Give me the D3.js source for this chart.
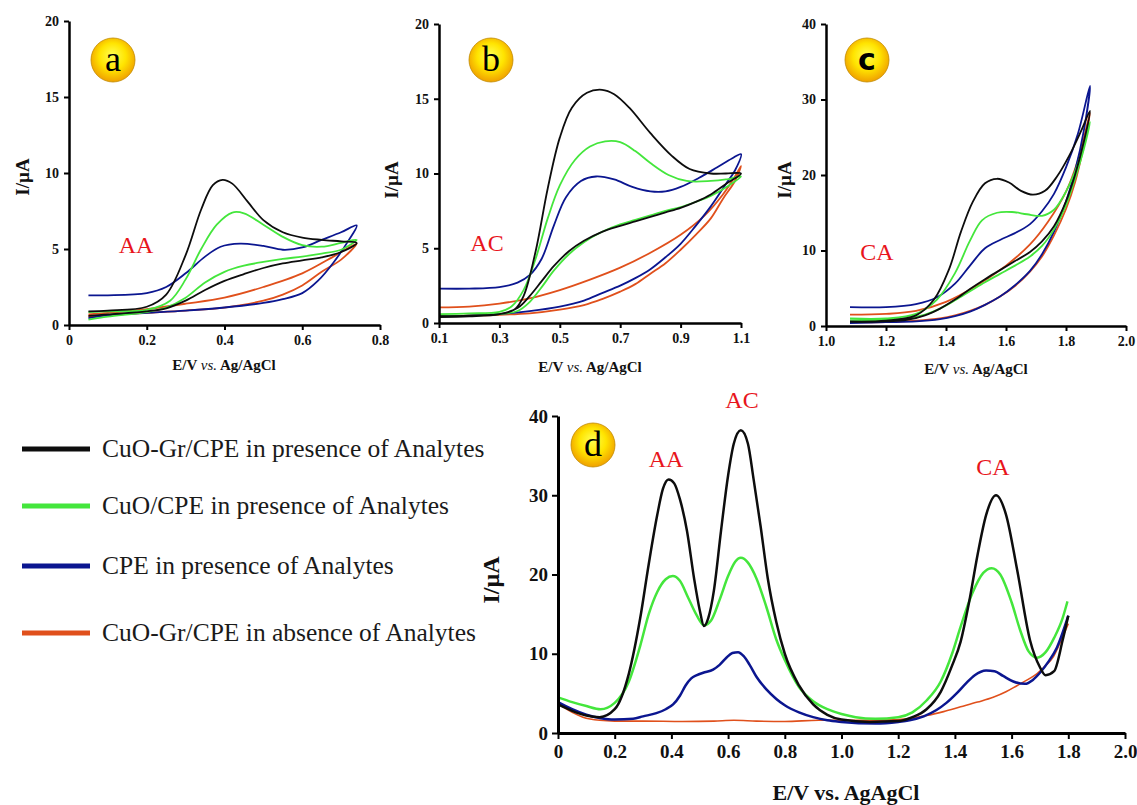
<!DOCTYPE html>
<html>
<head>
<meta charset="utf-8">
<script src="https://cdn.jsdelivr.net/npm/d3@7"></script>
<style>
  body { margin: 0; background: #fff; }
  svg text { font-family: "Liberation Serif", "Times New Roman", serif; }
</style>
</head>
<body>
<svg id="chart" width="1137" height="805"></svg>
<script>
"use strict"

// ---- data: [E (V), I (uA)] ----
// panels a-c are cyclic scans: forward branch then the way back
const seriesNames = [
  "CuO-Gr/CPE in presence of Analytes",
  "CuO/CPE in presence of Analytes",
  "CPE in presence of Analytes",
  "CuO-Gr/CPE in absence of Analytes"
];
const seriesColors = ["#0d0d0d", "#44e63c", "#0b1690", "#e0501c"];

const aBlack = [[0.05,0.9],[0.1,0.95],[0.2,1.2],[0.25,2.0],[0.3,4.6],[0.34,7.6],[0.37,9.2],[0.395,9.55],[0.42,9.3],[0.46,8.1],[0.5,6.9],[0.55,6.1],[0.6,5.75],[0.65,5.6],[0.7,5.5],[0.74,5.4],[0.7,4.8],[0.65,4.45],[0.6,4.25],[0.55,4.05],[0.5,3.75],[0.45,3.35],[0.4,2.9],[0.35,2.3],[0.3,1.6],[0.25,1.1],[0.2,0.9],[0.1,0.7],[0.05,0.6]];
const aGreen = [[0.05,0.85],[0.1,0.9],[0.2,1.0],[0.26,1.6],[0.3,3.0],[0.34,5.0],[0.38,6.6],[0.42,7.4],[0.45,7.35],[0.5,6.6],[0.55,5.8],[0.6,5.25],[0.65,5.15],[0.7,5.4],[0.74,5.6],[0.7,4.95],[0.65,4.7],[0.6,4.5],[0.55,4.35],[0.5,4.15],[0.45,3.9],[0.4,3.5],[0.35,2.8],[0.3,1.8],[0.25,1.15],[0.2,0.85],[0.1,0.55],[0.05,0.35]];
const aBlue = [[0.05,1.95],[0.1,1.95],[0.2,2.1],[0.25,2.5],[0.3,3.4],[0.35,4.5],[0.39,5.15],[0.44,5.35],[0.5,5.2],[0.55,4.95],[0.6,5.1],[0.65,5.6],[0.7,6.1],[0.74,6.55],[0.72,5.6],[0.68,4.1],[0.64,2.9],[0.6,2.1],[0.55,1.7],[0.5,1.45],[0.4,1.15],[0.3,0.95],[0.2,0.8],[0.1,0.65],[0.05,0.45]];
const aOrange = [[0.05,0.7],[0.1,0.8],[0.2,1.05],[0.3,1.4],[0.4,1.8],[0.5,2.5],[0.6,3.4],[0.68,4.5],[0.74,5.35],[0.7,4.3],[0.65,3.5],[0.6,2.6],[0.55,2.0],[0.5,1.6],[0.4,1.15],[0.3,0.95],[0.2,0.8],[0.1,0.65],[0.05,0.55]];

const bBlack = [[0.1,0.45],[0.2,0.5],[0.3,0.6],[0.35,0.9],[0.38,1.8],[0.42,4.8],[0.46,9.0],[0.5,12.4],[0.54,14.4],[0.59,15.4],[0.64,15.6],[0.68,15.3],[0.73,14.4],[0.8,12.7],[0.87,11.2],[0.93,10.3],[1.0,10.0],[1.05,10.0],[1.1,10.0],[1.05,9.3],[1.0,8.6],[0.95,8.1],[0.9,7.7],[0.85,7.4],[0.8,7.1],[0.75,6.8],[0.7,6.5],[0.64,6.1],[0.58,5.5],[0.53,4.8],[0.48,3.8],[0.44,2.8],[0.4,1.8],[0.36,1.0],[0.3,0.6],[0.2,0.45],[0.1,0.4]];
const bGreen = [[0.1,0.6],[0.2,0.65],[0.3,0.75],[0.34,1.1],[0.38,2.2],[0.42,4.3],[0.46,7.0],[0.5,9.2],[0.55,10.9],[0.6,11.8],[0.65,12.15],[0.7,12.1],[0.75,11.5],[0.8,10.7],[0.86,9.9],[0.92,9.5],[1.0,9.5],[1.05,9.6],[1.1,9.8],[1.06,9.2],[1.0,8.5],[0.95,8.1],[0.9,7.75],[0.85,7.5],[0.8,7.2],[0.75,6.9],[0.7,6.6],[0.64,6.1],[0.58,5.4],[0.53,4.6],[0.48,3.5],[0.44,2.4],[0.4,1.4],[0.36,0.8],[0.3,0.6],[0.2,0.5],[0.1,0.45]];
const bBlue = [[0.1,2.3],[0.2,2.3],[0.3,2.4],[0.36,2.7],[0.4,3.2],[0.44,4.3],[0.48,6.5],[0.52,8.4],[0.57,9.5],[0.62,9.8],[0.68,9.6],[0.74,9.1],[0.8,8.8],[0.85,8.8],[0.9,9.1],[0.96,9.7],[1.02,10.4],[1.07,11.0],[1.1,11.3],[1.08,10.2],[1.05,9.3],[1.0,7.8],[0.95,6.5],[0.9,5.3],[0.85,4.4],[0.8,3.6],[0.75,3.0],[0.7,2.5],[0.64,2.0],[0.58,1.5],[0.5,1.1],[0.4,0.8],[0.3,0.6],[0.2,0.5],[0.1,0.45]];
const bOrange = [[0.1,1.05],[0.2,1.1],[0.3,1.3],[0.4,1.65],[0.5,2.2],[0.6,2.9],[0.7,3.7],[0.8,4.7],[0.9,5.9],[0.98,7.2],[1.04,8.6],[1.08,9.8],[1.1,10.5],[1.08,9.5],[1.04,8.3],[1.0,7.0],[0.95,5.9],[0.9,4.9],[0.85,4.0],[0.8,3.3],[0.75,2.6],[0.7,2.1],[0.64,1.6],[0.58,1.2],[0.5,0.9],[0.4,0.65],[0.3,0.55],[0.2,0.5],[0.1,0.45]];

const cBlack = [[1.08,0.6],[1.2,0.7],[1.3,1.4],[1.36,3.5],[1.41,7.5],[1.45,12.5],[1.49,16.5],[1.53,18.9],[1.57,19.5],[1.61,19.0],[1.65,17.9],[1.69,17.4],[1.73,17.9],[1.77,19.8],[1.81,22.5],[1.85,25.8],[1.88,28.5],[1.86,24.5],[1.83,20.0],[1.8,16.5],[1.76,13.2],[1.72,11.2],[1.68,9.8],[1.63,8.6],[1.58,7.4],[1.53,6.2],[1.48,4.9],[1.43,3.5],[1.38,2.3],[1.33,1.4],[1.27,0.8],[1.2,0.6],[1.08,0.5]];
const cGreen = [[1.08,1.0],[1.2,1.0],[1.3,1.6],[1.37,3.5],[1.43,7.0],[1.48,11.3],[1.52,14.0],[1.57,15.0],[1.62,15.1],[1.67,14.8],[1.72,14.6],[1.76,15.4],[1.8,17.8],[1.84,21.5],[1.88,27.0],[1.86,23.5],[1.83,19.5],[1.8,16.0],[1.76,12.8],[1.72,10.6],[1.68,9.2],[1.63,8.0],[1.58,6.9],[1.53,5.8],[1.48,4.6],[1.43,3.4],[1.38,2.3],[1.33,1.5],[1.27,1.0],[1.2,0.8],[1.08,0.8]];
const cBlue = [[1.08,2.5],[1.2,2.5],[1.3,2.9],[1.37,3.8],[1.43,5.6],[1.48,8.0],[1.53,10.3],[1.58,11.4],[1.63,12.3],[1.68,13.5],[1.72,15.2],[1.76,17.5],[1.8,21.0],[1.84,25.5],[1.88,31.8],[1.86,26.0],[1.83,20.5],[1.8,16.5],[1.76,12.5],[1.72,9.5],[1.68,7.3],[1.63,5.4],[1.58,3.9],[1.53,2.8],[1.48,1.9],[1.43,1.3],[1.38,0.9],[1.3,0.6],[1.2,0.5],[1.08,0.4]];
const cOrange = [[1.08,1.5],[1.2,1.6],[1.3,2.0],[1.4,3.2],[1.5,5.3],[1.6,8.0],[1.68,10.8],[1.74,13.8],[1.8,17.8],[1.84,22.0],[1.88,28.2],[1.86,24.0],[1.83,19.0],[1.8,15.5],[1.76,12.0],[1.72,9.2],[1.68,7.2],[1.63,5.3],[1.58,3.9],[1.53,2.8],[1.48,2.0],[1.43,1.4],[1.38,1.0],[1.3,0.7],[1.2,0.5],[1.08,0.5]];

// panel d: differential pulse scan, one branch each
const dBlack = [[0,3.6],[0.05,2.8],[0.1,2.2],[0.147,2.0],[0.2,3.0],[0.25,7.5],[0.29,14.5],[0.32,21.3],[0.35,27.5],[0.37,30.8],[0.39,32.0],[0.41,31.5],[0.43,29.5],[0.455,25.5],[0.48,19.5],[0.5,15.5],[0.515,13.5],[0.53,14.5],[0.55,18.0],[0.575,25.5],[0.6,32.5],[0.62,36.5],[0.645,38.2],[0.67,36.5],[0.69,32.0],[0.715,26.0],[0.74,19.5],[0.77,14.0],[0.8,10.0],[0.85,6.0],[0.9,3.6],[0.95,2.3],[1.0,1.7],[1.1,1.4],[1.2,1.5],[1.25,2.0],[1.3,3.0],[1.35,5.2],[1.39,8.5],[1.42,11.5],[1.45,16.5],[1.48,22.5],[1.51,27.5],[1.545,30.0],[1.58,27.6],[1.62,20.5],[1.665,11.7],[1.7,8.3],[1.72,7.3],[1.75,7.8],[1.78,11.7],[1.8,14.8]];
const dGreen = [[0,4.5],[0.05,3.9],[0.1,3.4],[0.15,3.0],[0.2,3.8],[0.25,6.5],[0.29,11.0],[0.32,15.0],[0.35,17.8],[0.38,19.4],[0.405,19.8],[0.43,19.2],[0.46,17.0],[0.49,14.8],[0.515,13.6],[0.54,14.2],[0.57,16.8],[0.6,19.8],[0.625,21.6],[0.645,22.1],[0.67,21.5],[0.7,19.5],[0.735,15.9],[0.77,11.8],[0.8,9.2],[0.85,5.8],[0.9,4.0],[0.95,3.0],[1.0,2.4],[1.05,2.0],[1.12,1.8],[1.2,2.0],[1.25,2.6],[1.3,4.1],[1.35,6.5],[1.39,10.0],[1.42,13.4],[1.46,17.5],[1.5,20.2],[1.53,20.8],[1.56,20.0],[1.6,16.5],[1.63,13.0],[1.66,10.3],[1.69,9.5],[1.72,10.2],[1.75,12.0],[1.78,14.5],[1.797,16.6]];
const dBlue = [[0,3.9],[0.05,3.0],[0.1,2.3],[0.147,1.9],[0.2,1.7],[0.265,1.8],[0.3,2.1],[0.347,2.5],[0.38,3.0],[0.406,3.6],[0.43,4.7],[0.45,6.0],[0.47,6.9],[0.49,7.3],[0.512,7.6],[0.547,8.0],[0.57,8.6],[0.594,9.5],[0.615,10.1],[0.635,10.2],[0.655,9.7],[0.676,8.6],[0.7,7.1],[0.735,5.5],[0.77,4.3],[0.8,3.5],[0.85,2.6],[0.9,2.0],[0.95,1.6],[1.0,1.4],[1.12,1.2],[1.2,1.4],[1.24,1.6],[1.29,2.1],[1.335,2.9],[1.37,3.8],[1.406,5.0],[1.44,6.3],[1.47,7.3],[1.51,7.9],[1.54,7.8],[1.57,7.2],[1.606,6.5],[1.647,6.2],[1.675,6.7],[1.7,7.6],[1.73,9.0],[1.76,10.8],[1.8,14.8]];
const dOrange = [[0,3.7],[0.05,2.6],[0.088,2.0],[0.147,1.6],[0.2,1.5],[0.3,1.5],[0.44,1.45],[0.55,1.5],[0.62,1.6],[0.7,1.5],[0.8,1.45],[0.92,1.6],[1.0,1.6],[1.1,1.6],[1.18,1.65],[1.25,1.9],[1.3,2.2],[1.36,2.7],[1.42,3.3],[1.48,3.9],[1.535,4.5],[1.58,5.2],[1.62,6.0],[1.66,6.8],[1.69,7.5],[1.72,8.5],[1.747,9.6],[1.77,11.3],[1.8,13.8]];

const topXTicksA = [0, 0.2, 0.4, 0.6, 0.8];
const topXTicksB = [0.1, 0.3, 0.5, 0.7, 0.9, 1.1];
const topXTicksC = [1.0, 1.2, 1.4, 1.6, 1.8, 2.0];
const xTicksD = [0, 0.2, 0.4, 0.6, 0.8, 1.0, 1.2, 1.4, 1.6, 1.8, 2.0];
const yTicks20 = [0, 5, 10, 15, 20];
const yTicks40 = [0, 10, 20, 30, 40];

// ---- drawing ----
const svg = d3.select("#chart");
const red = "#e8151c";

const grad = svg.append("defs").append("radialGradient")
    .attr("id", "badgeFill")
    .attr("cx", "50%").attr("cy", "45%").attr("r", "55%")
    .attr("fx", "48%").attr("fy", "38%");
grad.append("stop").attr("offset", "0%").attr("stop-color", "#ffff50");
grad.append("stop").attr("offset", "55%").attr("stop-color", "#ffe400");
grad.append("stop").attr("offset", "100%").attr("stop-color", "#f0a000");

function fmtE(d) { return d === 0 ? "0" : d3.format(".1f")(d); }

function drawPanel(p) {
    let g = svg.append("g");
    let x = d3.scaleLinear().domain(p.xDomain).range(p.xRange);
    let y = d3.scaleLinear().domain(p.yDomain).range(p.yRange);

    let line = d3.line()
        .x(d => x(d[0]))
        .y(d => y(d[1]))
        .curve(p.loop ? d3.curveCatmullRom.alpha(0.5) : d3.curveMonotoneX);

    // draw orange first so black sits on top
    for (let i = p.curves.length - 1; i >= 0; i--) {
        g.append("path")
            .datum(p.curves[i])
            .attr("d", line)
            .attr("fill", "none")
            .attr("stroke", seriesColors[i])
            .attr("stroke-width", (i === 3 && !p.loop) ? 1.6 : p.lineW)
            .attr("stroke-linejoin", "round");
    }

    let xAxis = g.append("g")
        .attr("transform", `translate(0,${p.yRange[0]})`)
        .call(d3.axisBottom(x).tickValues(p.xTicks).tickFormat(fmtE)
            .tickSize(p.tick).tickSizeOuter(0).tickPadding(p.xPad));
    let yAxis = g.append("g")
        .attr("transform", `translate(${p.xRange[0]},0)`)
        .call(d3.axisLeft(y).tickValues(p.yTicks).tickFormat(d3.format("d"))
            .tickSize(p.tick).tickSizeOuter(0).tickPadding(p.yPad));

    for (let ax of [xAxis, yAxis]) {
        ax.select(".domain").attr("stroke", "#000").attr("stroke-width", p.axisW);
        ax.selectAll(".tick line").attr("stroke", "#000").attr("stroke-width", 2);
        ax.selectAll(".tick text")
            .attr("fill", "#111")
            .style("font-family", "'Liberation Serif', serif")
            .style("font-weight", "bold")
            .style("font-size", p.tickFont + "px");
    }

    // badge
    g.append("circle")
        .attr("cx", p.badge[0]).attr("cy", p.badge[1]).attr("r", 22)
        .attr("fill", "url(#badgeFill)")
        .attr("stroke", "#c08a00").attr("stroke-width", 0.8);
    let bt = g.append("text")
        .attr("x", p.badge[0]).attr("y", p.badge[1] + 11)
        .attr("text-anchor", "middle")
        .style("font-size", "36px")
        .attr("fill", "#000")
        .text(p.letter);
    if (p.letter === "c") {
        // this one is set in a heavy sans face in the original
        bt.style("font-family", "'DejaVu Sans', sans-serif")
          .style("font-weight", "bold")
          .style("font-size", "30px")
          .attr("y", p.badge[1] + 10);
    }

    // analyte labels
    for (let lab of p.labels) {
        g.append("text")
            .attr("x", lab[1]).attr("y", lab[2])
            .attr("text-anchor", "middle")
            .attr("fill", red)
            .style("font-size", "24px")
            .text(lab[0]);
    }

    // axis titles
    g.append("text")
        .attr("transform", `translate(${p.yTitle[0]},${p.yTitle[1]}) rotate(-90)`)
        .attr("text-anchor", "middle")
        .style("font-weight", "bold")
        .style("font-size", p.yTitleFont + "px")
        .attr("fill", "#111")
        .text("I/\u00b5A");

    let xt = g.append("text")
        .attr("x", p.xTitle[0]).attr("y", p.xTitle[1])
        .attr("text-anchor", "middle")
        .style("font-weight", "bold")
        .style("font-size", p.xTitleFont + "px")
        .attr("fill", "#111");
    if (p.loop) {
        xt.append("tspan").text("E/V ");
        xt.append("tspan").style("font-style", "italic").style("font-weight", "normal").text("vs.");
        xt.append("tspan").text(" Ag/AgCl");
    } else {
        xt.text("E/V vs. AgAgCl");
    }
}

drawPanel({
    xDomain: [0, 0.8], xRange: [69, 380], yDomain: [0, 20], yRange: [325, 21],
    xTicks: topXTicksA, yTicks: yTicks20, loop: true, lineW: 1.8, axisW: 2.5,
    tick: 5, xPad: 5, yPad: 5, tickFont: 14,
    curves: [aBlack, aGreen, aBlue, aOrange],
    badge: [113, 60], letter: "a", labels: [["AA", 136, 253]],
    yTitle: [29, 177], yTitleFont: 19, xTitle: [224, 370], xTitleFont: 15
});

drawPanel({
    xDomain: [0.1, 1.1], xRange: [439, 741], yDomain: [0, 20], yRange: [323, 24],
    xTicks: topXTicksB, yTicks: yTicks20, loop: true, lineW: 1.8, axisW: 2.5,
    tick: 5, xPad: 5, yPad: 5, tickFont: 14,
    curves: [bBlack, bGreen, bBlue, bOrange],
    badge: [491, 60], letter: "b", labels: [["AC", 487, 251]],
    yTitle: [398, 180], yTitleFont: 19, xTitle: [590, 372], xTitleFont: 15
});

drawPanel({
    xDomain: [1.0, 2.0], xRange: [826, 1126], yDomain: [0, 40], yRange: [326, 24],
    xTicks: topXTicksC, yTicks: yTicks40, loop: true, lineW: 1.8, axisW: 2.5,
    tick: 5, xPad: 5, yPad: 5, tickFont: 14,
    curves: [cBlack, cGreen, cBlue, cOrange],
    badge: [867, 60], letter: "c", labels: [["CA", 877, 260]],
    yTitle: [791, 180], yTitleFont: 19, xTitle: [976, 374], xTitleFont: 15
});

drawPanel({
    xDomain: [0, 2.0], xRange: [558, 1125], yDomain: [0, 40], yRange: [733, 416],
    xTicks: xTicksD, yTicks: yTicks40, loop: false, lineW: 2.5, axisW: 3,
    tick: 6, xPad: 6, yPad: 4, tickFont: 19,
    curves: [dBlack, dGreen, dBlue, dOrange],
    badge: [593, 445], letter: "d",
    labels: [["AA", 666, 467], ["AC", 742, 408], ["CA", 993, 475]],
    yTitle: [499, 580], yTitleFont: 24, xTitle: [846, 800], xTitleFont: 22
});

// legend
const legendY = [449, 506, 566, 633];
const legend = svg.append("g");
seriesNames.forEach((name, i) => {
    legend.append("line")
        .attr("x1", 22).attr("x2", 90)
        .attr("y1", legendY[i]).attr("y2", legendY[i])
        .attr("stroke", seriesColors[i])
        .attr("stroke-width", 5);
    legend.append("text")
        .attr("x", 102).attr("y", legendY[i] + 8)
        .style("font-size", "25.5px")
        .attr("fill", "#1a1a1a")
        .text(name);
});
</script>
</body>
</html>
